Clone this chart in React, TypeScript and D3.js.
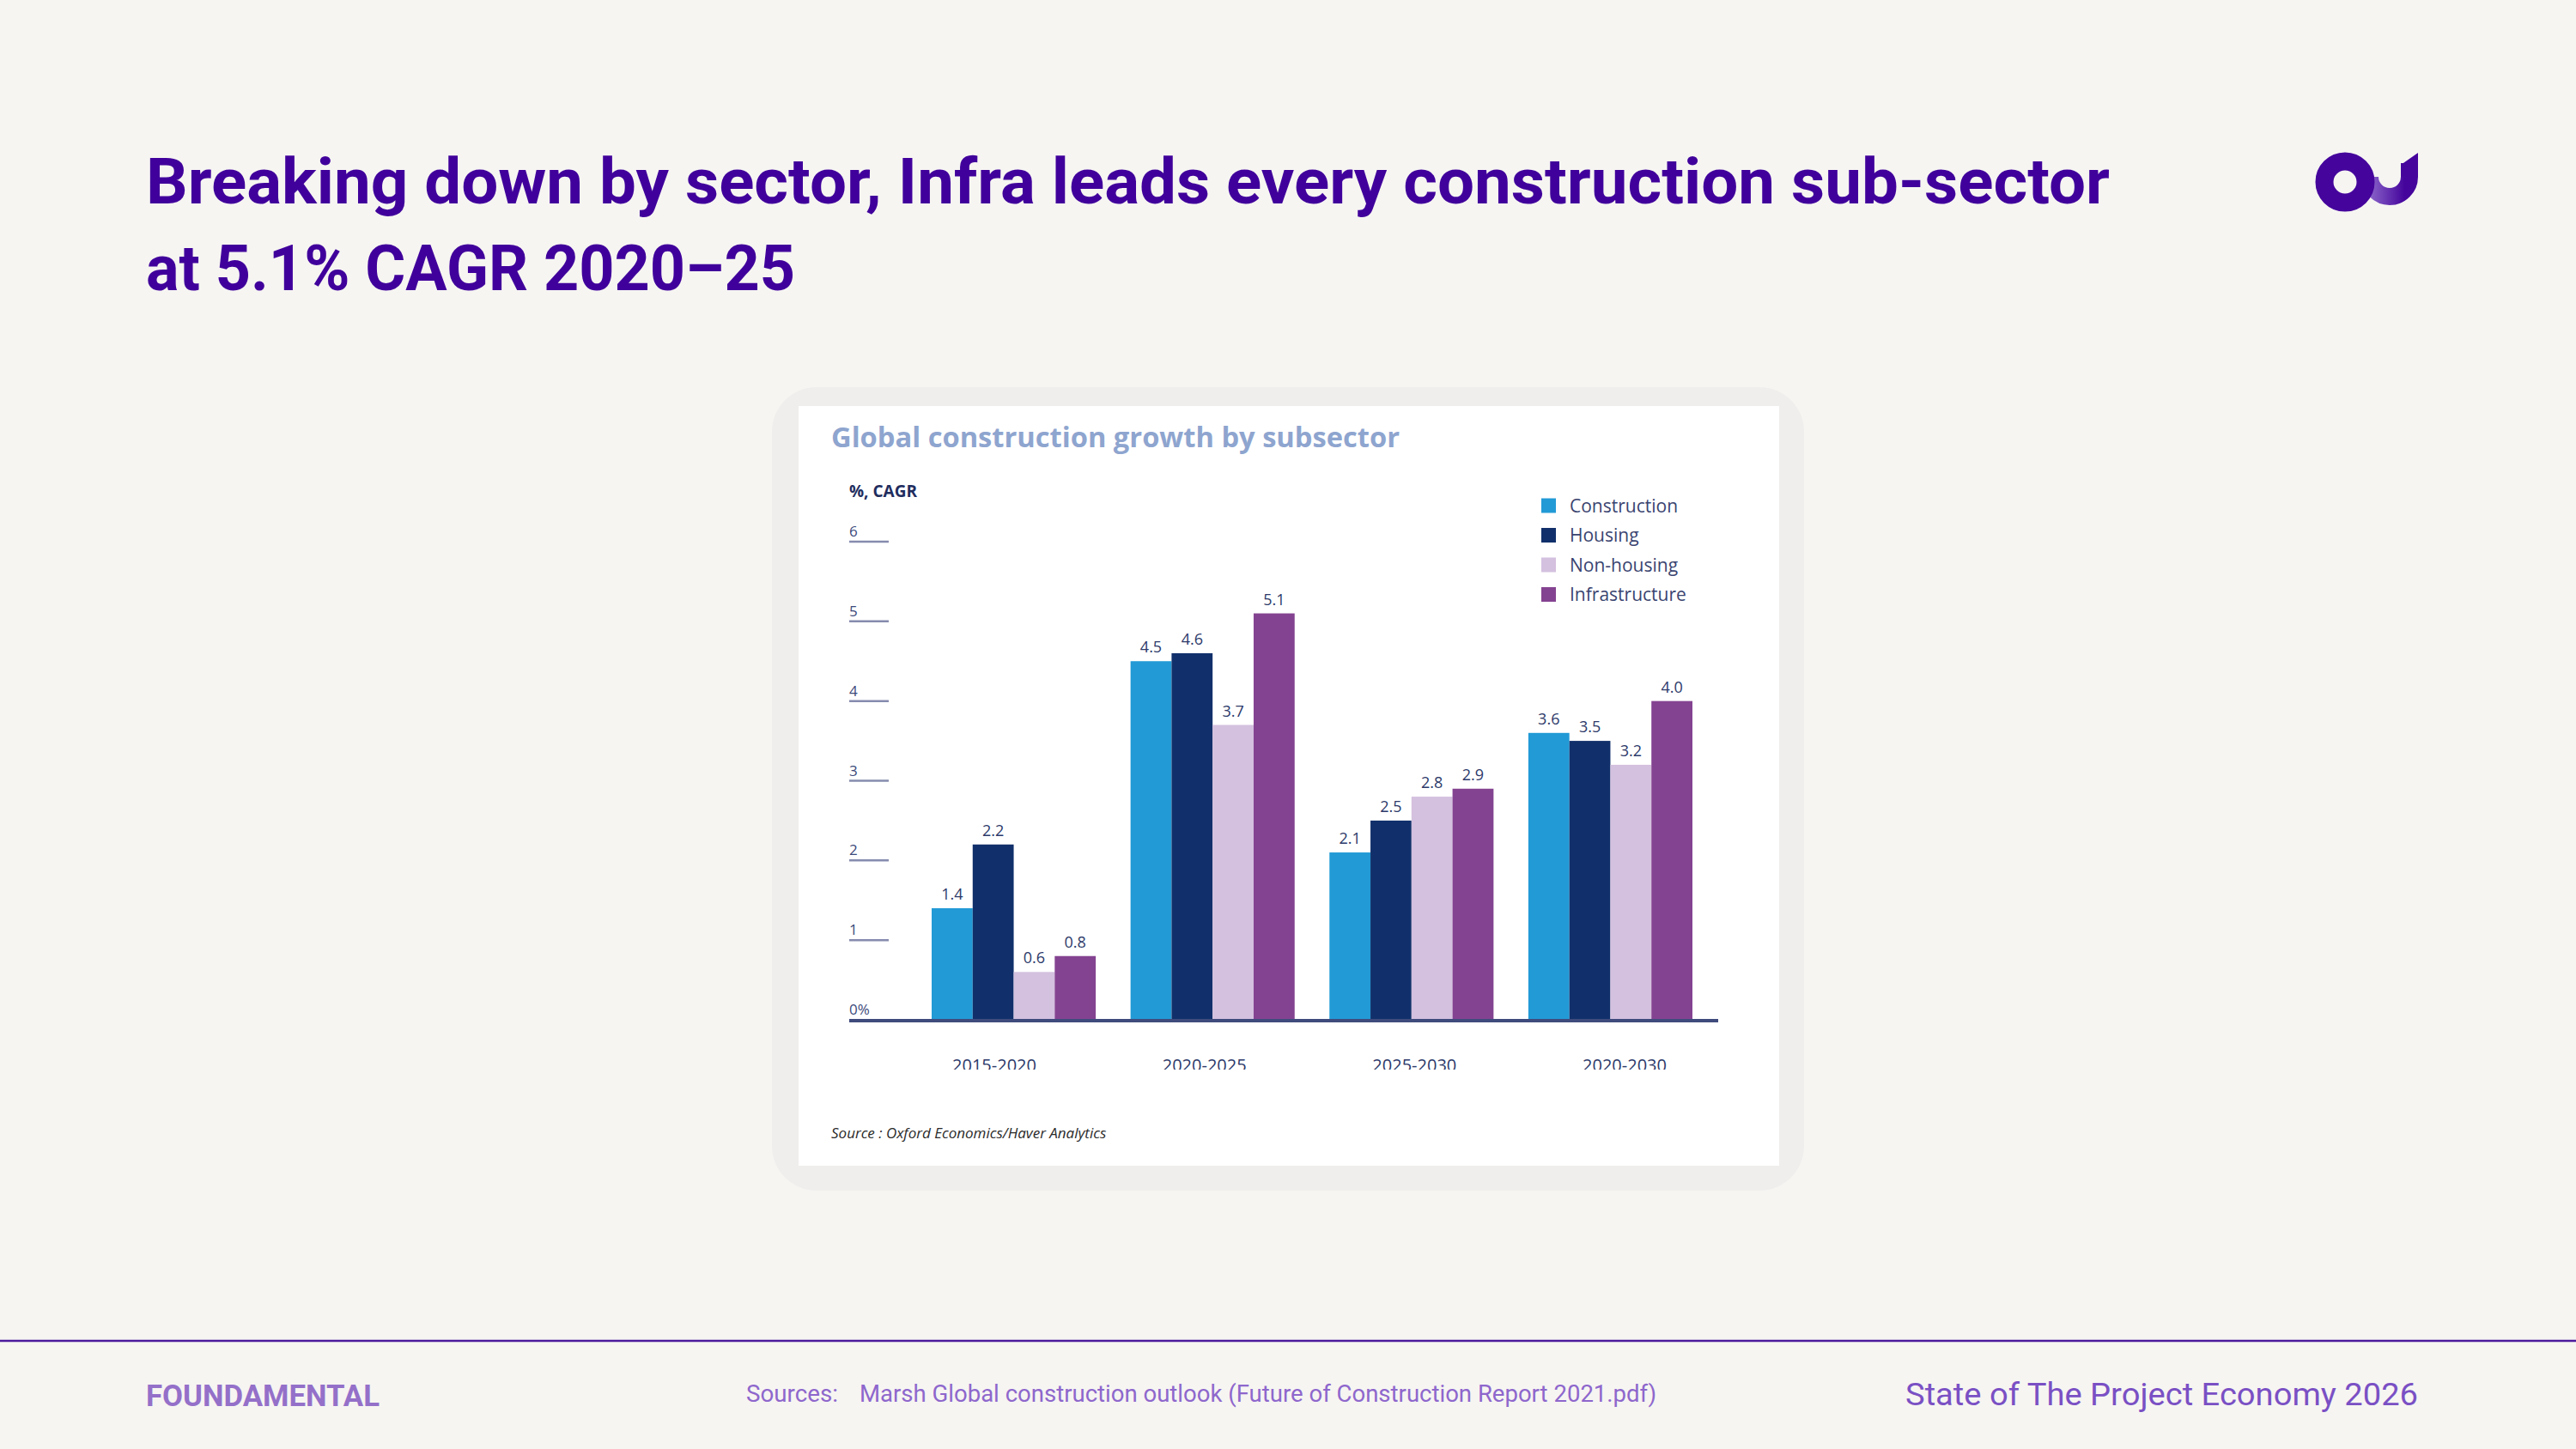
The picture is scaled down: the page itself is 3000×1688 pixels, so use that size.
import * as d3 from "d3";

// growth by period (% CAGR) for each construction sub-sector
const periods = ["2015-2020", "2020-2025", "2025-2030", "2020-2030"];
const subsectors = ["Construction", "Housing", "Non-housing", "Infrastructure"];
const construction = [1.4, 4.5, 2.1, 3.6];
const housing = [2.2, 4.6, 2.5, 3.5];
const nonHousing = [0.6, 3.7, 2.8, 3.2];
const infrastructure = [0.8, 5.1, 2.9, 4.0];
const yTicks = [1, 2, 3, 4, 5, 6];

const seriesValues = [construction, housing, nonHousing, infrastructure];
const palette = ["#229ad6", "#11306b", "#d4c0df", "#844391"];

const W = 3000;
const H = 1688;

const chartFont = "'Open Sans', sans-serif";
const deckFont = "Roboto, 'Liberation Sans', sans-serif";

function Logo() {
  // two linked rings: closed "o" and open "u"
  return (
    <g>
      <defs>
        <linearGradient id="logo-u" x1="2748" y1="0" x2="2800" y2="0" gradientUnits="userSpaceOnUse">
          <stop offset="0%" stopColor="#9d7fd6" />
          <stop offset="100%" stopColor="#45059c" />
        </linearGradient>
      </defs>
      <path
        d="M 2760 206 A 23 23 0 0 0 2806 206 L 2806 190"
        fill="none"
        stroke="url(#logo-u)"
        strokeWidth={20}
      />
      <path d="M 2796 192 L 2816 178 L 2816 206 L 2796 206 Z" fill="#45059c" />
      <circle cx={2731} cy={212} r={24} fill="none" stroke="#45059c" strokeWidth={21} />
    </g>
  );
}

export default function App() {
  const x0 = d3.scaleBand<string>().domain(periods).range([1085, 1971]).paddingInner(0.175);
  const x1 = d3.scaleBand<string>().domain(subsectors).range([0, x0.bandwidth()]);
  // period captions sit on their own, slightly wider spacing
  const xLabel = d3.scalePoint<string>().domain(periods).range([1158, 1892]);
  const y = d3.scaleLinear().domain([0, 6]).range([1188, 631]);
  const color = d3.scaleOrdinal<string, string>().domain(subsectors).range(palette);

  return (
    <div style={{ position: "absolute", left: 0, top: 0 }}>
      <svg width={W} height={H} viewBox={`0 0 ${W} ${H}`} style={{ display: "block" }}>
        <rect width={W} height={H} fill="#f6f5f2" />

        {/* headline */}
        <g fontFamily={deckFont} fontWeight={700} fill="#40009b">
          <text x={170} y={237} fontSize={74} textLength={2287} lengthAdjust="spacingAndGlyphs">
            Breaking down by sector, Infra leads every construction sub-sector
          </text>
          <text x={170} y={338} fontSize={74} textLength={756} lengthAdjust="spacingAndGlyphs">
            at 5.1% CAGR 2020–25
          </text>
        </g>
        <Logo />

        {/* card */}
        <rect x={899} y={451} width={1202} height={936} rx={52} fill="#efeeec" />
        <rect x={930} y={473} width={1142} height={885} fill="#ffffff" />

        <text
          x={968}
          y={521}
          fontFamily={chartFont}
          fontWeight={700}
          fontSize={32}
          fill="#8ea5cf"
          textLength={662}
          lengthAdjust="spacingAndGlyphs"
        >
          Global construction growth by subsector
        </text>
        <text x={989} y={579} fontFamily={chartFont} fontWeight={700} fontSize={19} fill="#1f2d5e">
          %, CAGR
        </text>

        {/* y ticks */}
        <g fontFamily={chartFont} fontSize={17} fill="#3c4a7a">
          {yTicks.map((t) => (
            <g key={t}>
              <line x1={989} x2={1035} y1={y(t)} y2={y(t)} stroke="#868cae" strokeWidth={2.5} />
              <text x={989} y={y(t) - 6}>
                {t}
              </text>
            </g>
          ))}
          <text x={989} y={y(0) - 6}>
            0%
          </text>
        </g>

        {/* bars */}
        {periods.map((p, i) => (
          <g key={p} transform={`translate(${x0(p)},0)`}>
            {subsectors.map((s, j) => {
              const v = seriesValues[j][i];
              const bx = x1(s) ?? 0;
              return (
                <g key={s}>
                  <rect x={bx} y={y(v)} width={x1.bandwidth()} height={y(0) - y(v)} fill={color(s)} />
                  <text
                    x={bx + x1.bandwidth() / 2}
                    y={y(v) - 10}
                    textAnchor="middle"
                    fontFamily={chartFont}
                    fontSize={18}
                    fill="#2d3a6a"
                  >
                    {v.toFixed(1)}
                  </text>
                </g>
              );
            })}
          </g>
        ))}

        <line x1={989} x2={2001} y1={y(0) + 1} y2={y(0) + 1} stroke="#3f4b7c" strokeWidth={4} />

        {/* period labels, cut off at the lower edge of the plot image */}
        <defs>
          <clipPath id="period-clip">
            <rect x={930} y={1200} width={1142} height={46} />
          </clipPath>
        </defs>
        <g clipPath="url(#period-clip)" fontFamily={chartFont} fontSize={20} fill="#2d3a6a">
          {periods.map((p) => (
            <text key={p} x={xLabel(p)} y={1248} textAnchor="middle">
              {p}
            </text>
          ))}
        </g>

        {/* legend */}
        <g fontFamily={chartFont} fontSize={21} fill="#3a4470">
          {subsectors.map((s, j) => {
            const cy = 589 + j * 34.5;
            return (
              <g key={s}>
                <rect x={1795} y={cy - 8.5} width={17} height={17} fill={color(s)} />
                <text x={1828} y={cy + 7.5}>
                  {s}
                </text>
              </g>
            );
          })}
        </g>

        <text x={968} y={1326} fontFamily={chartFont} fontStyle="italic" fontSize={17} fill="#2a2a2a">
          Source : Oxford Economics/Haver Analytics
        </text>

        {/* footer */}
        <line x1={0} x2={W} y1={1562} y2={1562} stroke="#4b1b9c" strokeWidth={2.5} />
        <text
          x={170}
          y={1638}
          fontFamily={deckFont}
          fontWeight={700}
          fontSize={35}
          fill="#9470c9"
          textLength={272}
          lengthAdjust="spacingAndGlyphs"
        >
          FOUNDAMENTAL
        </text>
        <g fontFamily={deckFont} fontSize={28} fill="#8e67cc">
          <text x={869} y={1633} textLength={107} lengthAdjust="spacingAndGlyphs">
            Sources:
          </text>
          <text x={1001} y={1633} textLength={928} lengthAdjust="spacingAndGlyphs">
            Marsh Global construction outlook (Future of Construction Report 2021.pdf)
          </text>
        </g>
        <text
          x={2219}
          y={1637}
          fontFamily={deckFont}
          fontSize={36}
          fill="#7a50c4"
          textLength={597}
          lengthAdjust="spacingAndGlyphs"
        >
          State of The Project Economy 2026
        </text>
      </svg>
    </div>
  );
}
